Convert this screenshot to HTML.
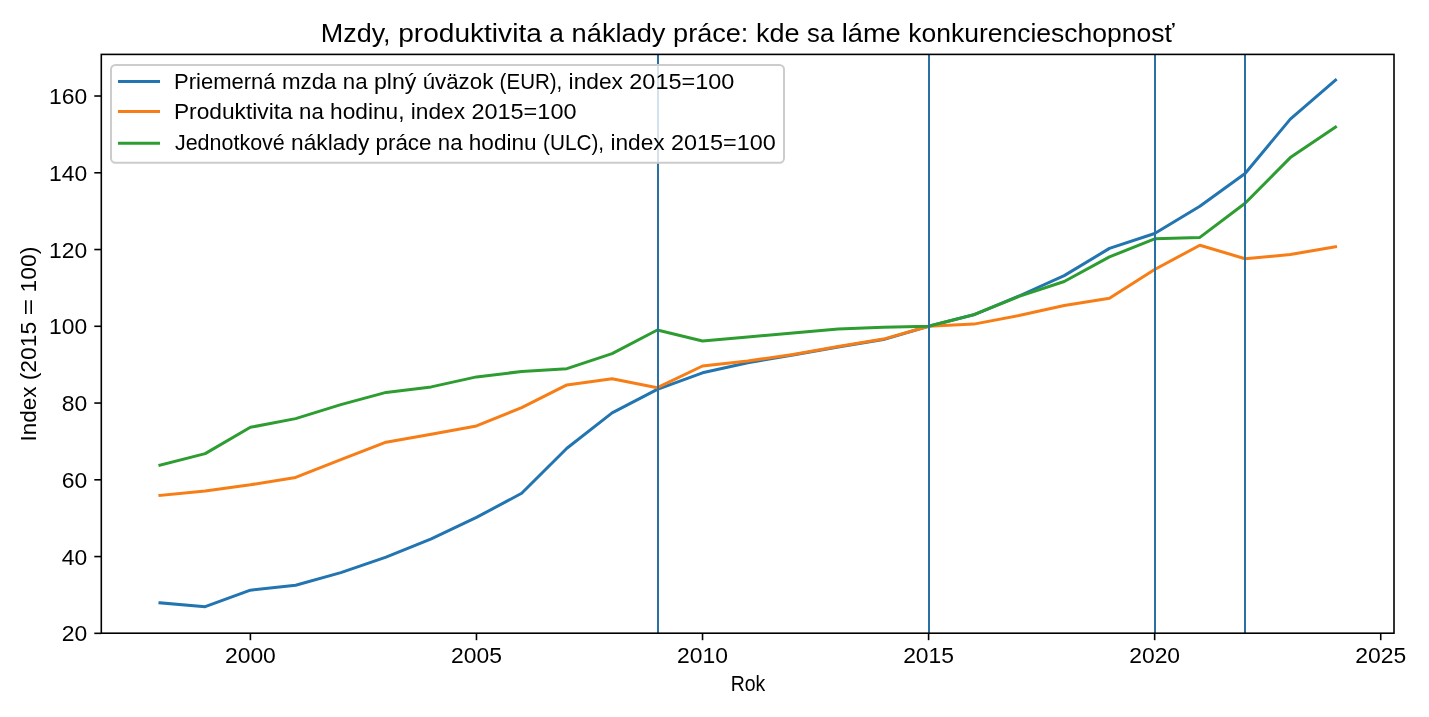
<!DOCTYPE html>
<html><head><meta charset="utf-8"><title>Mzdy, produktivita a náklady práce</title>
<style>
html,body{margin:0;padding:0;background:#fff;width:1429px;height:717px;overflow:hidden}
svg{display:block;will-change:transform}
text{font-family:"Liberation Sans", sans-serif;fill:#000}
</style></head><body>
<svg width="1429" height="717" viewBox="0 0 1429 717">
<rect x="0" y="0" width="1429" height="717" fill="#fff"/>
<defs><clipPath id="ax"><rect x="101.3" y="54.4" width="1292.70" height="578.80"/></clipPath></defs>

<g clip-path="url(#ax)" fill="none" stroke-width="3" stroke-linejoin="round" stroke-linecap="square">
<polyline points="159.97,602.80 205.19,606.70 250.40,590.20 295.61,585.20 340.83,572.60 386.04,557.10 431.25,538.90 476.47,517.40 521.68,493.30 566.89,448.20 612.10,412.90 657.32,389.40 702.53,372.80 747.74,362.80 792.96,354.90 838.17,346.90 883.38,339.60 928.60,326.30 973.81,314.80 1019.02,296.00 1064.23,275.60 1109.45,248.40 1154.66,233.50 1199.87,206.30 1245.09,173.50 1290.30,119.10 1335.51,80.10" stroke="#2275b0"/>
<polyline points="159.97,495.40 205.19,491.00 250.40,484.80 295.61,477.40 340.83,459.70 386.04,442.20 431.25,434.20 476.47,425.90 521.68,407.70 566.89,384.90 612.10,378.80 657.32,387.70 702.53,366.00 747.74,360.90 792.96,354.60 838.17,346.40 883.38,339.10 928.60,326.30 973.81,324.10 1019.02,315.50 1064.23,305.50 1109.45,298.20 1154.66,269.50 1199.87,245.20 1245.09,258.70 1290.30,254.50 1335.51,246.80" stroke="#f77e16"/>
<polyline points="159.97,465.20 205.19,453.60 250.40,427.30 295.61,418.60 340.83,404.60 386.04,392.40 431.25,386.90 476.47,376.90 521.68,371.50 566.89,368.70 612.10,353.70 657.32,330.00 702.53,341.00 747.74,336.90 792.96,333.10 838.17,329.10 883.38,327.30 928.60,326.30 973.81,314.60 1019.02,296.40 1064.23,281.50 1109.45,256.90 1154.66,238.80 1199.87,237.40 1245.09,203.20 1290.30,157.60 1335.51,127.10" stroke="#2e9d31"/>
<line x1="658" y1="54.4" x2="658" y2="633.2" stroke="#2a70a3" stroke-width="2" stroke-linecap="butt"/>
<line x1="929" y1="54.4" x2="929" y2="633.2" stroke="#2a70a3" stroke-width="2" stroke-linecap="butt"/>
<line x1="1155" y1="54.4" x2="1155" y2="633.2" stroke="#2a70a3" stroke-width="2" stroke-linecap="butt"/>
<line x1="1245" y1="54.4" x2="1245" y2="633.2" stroke="#2a70a3" stroke-width="2" stroke-linecap="butt"/>
</g>
<rect x="101.3" y="54.4" width="1292.70" height="578.80" fill="none" stroke="#000" stroke-width="1.6" stroke-linejoin="miter"/>
<line x1="250.40" y1="633.2" x2="250.40" y2="640.2" stroke="#000" stroke-width="1.6"/>
<text x="250.40" y="663" font-size="21.40" text-anchor="middle" textLength="50.9" lengthAdjust="spacingAndGlyphs">2000</text>
<line x1="476.47" y1="633.2" x2="476.47" y2="640.2" stroke="#000" stroke-width="1.6"/>
<text x="476.47" y="663" font-size="21.40" text-anchor="middle" textLength="50.9" lengthAdjust="spacingAndGlyphs">2005</text>
<line x1="702.53" y1="633.2" x2="702.53" y2="640.2" stroke="#000" stroke-width="1.6"/>
<text x="702.53" y="663" font-size="21.40" text-anchor="middle" textLength="50.9" lengthAdjust="spacingAndGlyphs">2010</text>
<line x1="928.60" y1="633.2" x2="928.60" y2="640.2" stroke="#000" stroke-width="1.6"/>
<text x="928.60" y="663" font-size="21.40" text-anchor="middle" textLength="50.9" lengthAdjust="spacingAndGlyphs">2015</text>
<line x1="1154.66" y1="633.2" x2="1154.66" y2="640.2" stroke="#000" stroke-width="1.6"/>
<text x="1154.66" y="663" font-size="21.40" text-anchor="middle" textLength="50.9" lengthAdjust="spacingAndGlyphs">2020</text>
<line x1="1380.73" y1="633.2" x2="1380.73" y2="640.2" stroke="#000" stroke-width="1.6"/>
<text x="1380.73" y="663" font-size="21.40" text-anchor="middle" textLength="50.9" lengthAdjust="spacingAndGlyphs">2025</text>
<line x1="94.3" y1="633.33" x2="101.3" y2="633.33" stroke="#000" stroke-width="1.6"/>
<text x="87.3" y="641.43" font-size="21.40" text-anchor="end" textLength="25.44" lengthAdjust="spacingAndGlyphs">20</text>
<line x1="94.3" y1="556.57" x2="101.3" y2="556.57" stroke="#000" stroke-width="1.6"/>
<text x="87.3" y="564.67" font-size="21.40" text-anchor="end" textLength="25.44" lengthAdjust="spacingAndGlyphs">40</text>
<line x1="94.3" y1="479.81" x2="101.3" y2="479.81" stroke="#000" stroke-width="1.6"/>
<text x="87.3" y="487.91" font-size="21.40" text-anchor="end" textLength="25.44" lengthAdjust="spacingAndGlyphs">60</text>
<line x1="94.3" y1="403.05" x2="101.3" y2="403.05" stroke="#000" stroke-width="1.6"/>
<text x="87.3" y="411.15" font-size="21.40" text-anchor="end" textLength="25.44" lengthAdjust="spacingAndGlyphs">80</text>
<line x1="94.3" y1="326.29" x2="101.3" y2="326.29" stroke="#000" stroke-width="1.6"/>
<text x="87.3" y="334.39" font-size="21.40" text-anchor="end" textLength="38.16" lengthAdjust="spacingAndGlyphs">100</text>
<line x1="94.3" y1="249.53" x2="101.3" y2="249.53" stroke="#000" stroke-width="1.6"/>
<text x="87.3" y="257.63" font-size="21.40" text-anchor="end" textLength="38.16" lengthAdjust="spacingAndGlyphs">120</text>
<line x1="94.3" y1="172.77" x2="101.3" y2="172.77" stroke="#000" stroke-width="1.6"/>
<text x="87.3" y="180.87" font-size="21.40" text-anchor="end" textLength="38.16" lengthAdjust="spacingAndGlyphs">140</text>
<line x1="94.3" y1="96.01" x2="101.3" y2="96.01" stroke="#000" stroke-width="1.6"/>
<text x="87.3" y="104.11" font-size="21.40" text-anchor="end" textLength="38.16" lengthAdjust="spacingAndGlyphs">160</text>
<text x="748.0" y="690.9" font-size="21.40" text-anchor="middle" textLength="34.6" lengthAdjust="spacingAndGlyphs">Rok</text>
<g transform="translate(36.4 0) rotate(-90)">
<text x="-441.45" y="0" font-size="21.40" textLength="54.83" lengthAdjust="spacingAndGlyphs">Index</text>
<text x="-380.29" y="0" font-size="21.40" textLength="58.46" lengthAdjust="spacingAndGlyphs">(2015</text>
<text x="-315.50" y="0" font-size="21.40" textLength="16.69" lengthAdjust="spacingAndGlyphs">=</text>
<text x="-292.48" y="0" font-size="21.40" textLength="45.79" lengthAdjust="spacingAndGlyphs">100)</text>
</g>
<text x="320.76" y="42" font-size="25.68" textLength="69.86" lengthAdjust="spacingAndGlyphs">Mzdy,</text>
<text x="398.20" y="42" font-size="25.68" textLength="143.62" lengthAdjust="spacingAndGlyphs">produktivita</text>
<text x="549.39" y="42" font-size="25.68" textLength="14.60" lengthAdjust="spacingAndGlyphs">a</text>
<text x="571.57" y="42" font-size="25.68" textLength="93.95" lengthAdjust="spacingAndGlyphs">náklady</text>
<text x="673.09" y="42" font-size="25.68" textLength="75.31" lengthAdjust="spacingAndGlyphs">práce:</text>
<text x="755.97" y="42" font-size="25.68" textLength="43.58" lengthAdjust="spacingAndGlyphs">kde</text>
<text x="807.12" y="42" font-size="25.68" textLength="27.01" lengthAdjust="spacingAndGlyphs">sa</text>
<text x="841.71" y="42" font-size="25.68" textLength="59.09" lengthAdjust="spacingAndGlyphs">láme</text>
<text x="908.38" y="42" font-size="25.68" textLength="265.95" lengthAdjust="spacingAndGlyphs">konkurencieschopnosť</text>
<rect x="111.0" y="65.0" width="673.0" height="97.8" rx="4.5" ry="4.5" fill="#fff" fill-opacity="0.8" stroke="#cccccc" stroke-width="2"/>
<line x1="119.5" y1="81.4" x2="158.5" y2="81.4" stroke="#2275b0" stroke-width="3" stroke-linecap="square"/>
<text x="173.95" y="88.85" font-size="21.40" textLength="101.69" lengthAdjust="spacingAndGlyphs">Priemerná</text>
<text x="281.96" y="88.85" font-size="21.40" textLength="54.56" lengthAdjust="spacingAndGlyphs">mzda</text>
<text x="342.83" y="88.85" font-size="21.40" textLength="24.76" lengthAdjust="spacingAndGlyphs">na</text>
<text x="373.91" y="88.85" font-size="21.40" textLength="42.48" lengthAdjust="spacingAndGlyphs">plný</text>
<text x="422.70" y="88.85" font-size="21.40" textLength="70.60" lengthAdjust="spacingAndGlyphs">úväzok</text>
<text x="499.62" y="88.85" font-size="21.40" textLength="62.71" lengthAdjust="spacingAndGlyphs">(EUR),</text>
<text x="568.64" y="88.85" font-size="21.40" textLength="54.35" lengthAdjust="spacingAndGlyphs">index</text>
<text x="629.30" y="88.85" font-size="21.40" textLength="105.12" lengthAdjust="spacingAndGlyphs">2015=100</text>
<line x1="119.5" y1="111.6" x2="158.5" y2="111.6" stroke="#f77e16" stroke-width="3" stroke-linecap="square"/>
<text x="173.95" y="118.7" font-size="21.40" textLength="118.75" lengthAdjust="spacingAndGlyphs">Produktivita</text>
<text x="299.01" y="118.7" font-size="21.40" textLength="24.76" lengthAdjust="spacingAndGlyphs">na</text>
<text x="330.09" y="118.7" font-size="21.40" textLength="74.36" lengthAdjust="spacingAndGlyphs">hodinu,</text>
<text x="410.76" y="118.7" font-size="21.40" textLength="54.34" lengthAdjust="spacingAndGlyphs">index</text>
<text x="471.42" y="118.7" font-size="21.40" textLength="105.10" lengthAdjust="spacingAndGlyphs">2015=100</text>
<line x1="119.5" y1="143.3" x2="158.5" y2="143.3" stroke="#2e9d31" stroke-width="3" stroke-linecap="square"/>
<text x="174.93" y="149.7" font-size="21.40" textLength="109.88" lengthAdjust="spacingAndGlyphs">Jednotkové</text>
<text x="291.11" y="149.7" font-size="21.40" textLength="78.14" lengthAdjust="spacingAndGlyphs">náklady</text>
<text x="375.54" y="149.7" font-size="21.40" textLength="55.96" lengthAdjust="spacingAndGlyphs">práce</text>
<text x="437.80" y="149.7" font-size="21.40" textLength="24.70" lengthAdjust="spacingAndGlyphs">na</text>
<text x="468.81" y="149.7" font-size="21.40" textLength="67.89" lengthAdjust="spacingAndGlyphs">hodinu</text>
<text x="542.99" y="149.7" font-size="21.40" textLength="61.14" lengthAdjust="spacingAndGlyphs">(ULC),</text>
<text x="610.44" y="149.7" font-size="21.40" textLength="54.22" lengthAdjust="spacingAndGlyphs">index</text>
<text x="670.95" y="149.7" font-size="21.40" textLength="104.86" lengthAdjust="spacingAndGlyphs">2015=100</text>
</svg></body></html>
